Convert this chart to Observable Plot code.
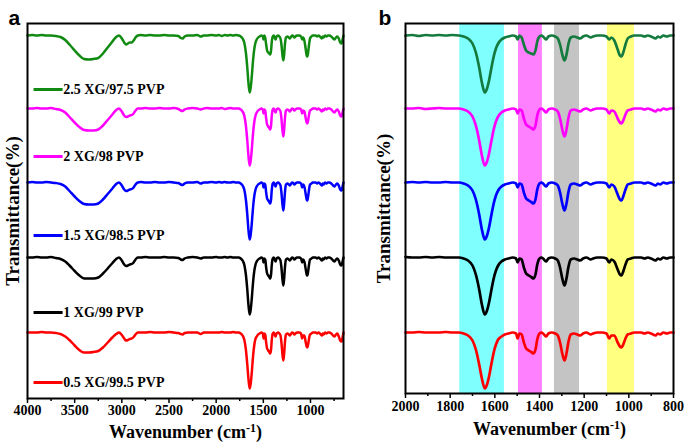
<!DOCTYPE html>
<html>
<head>
<meta charset="utf-8">
<script src="https://cdn.jsdelivr.net/npm/d3@7"></script>
<script src="https://cdn.jsdelivr.net/npm/@observablehq/plot@0.6"></script>
<style>
  html, body { margin: 0; padding: 0; background: #fff; }
  #wrap { position: relative; width: 685px; height: 445px; overflow: hidden; }
  #wrap svg { position: absolute; top: 0; }
</style>
</head>
<body>
<div id="wrap"></div>
<script>
// ---- data ----
const wavenumbers = [
4000,3950,3900,3850,3800,3750,3700,3650,3600,3550,
3500,3450,3400,3350,3300,3250,3200,3150,3100,3060,
3030,3000,2975,2955,2935,2915,2895,2875,2855,2830,
2800,2750,2700,2650,2600,2550,2500,2450,2400,2375,
2355,2335,2300,2250,2200,2165,2130,2100,2050,2000,
1970,1940,1910,1880,1850,1820,1790,1760,1740,1720,
1700,1685,1670,1658,1645,1635,1625,1615,1605,1595,
1585,1570,1555,1540,1520,1505,1498,1490,1480,1470,
1460,1448,1437,1427,1418,1410,1400,1390,1380,1370,
1360,1345,1330,1318,1308,1298,1288,1280,1270,1260,
1245,1230,1218,1205,1190,1170,1160,1140,1120,1100,
1088,1078,1065,1050,1040,1033,1025,1015,1005,990,
975,960,945,930,915,900,880,870,860,845,
830,815,800,780,760,745,730,715,700,685,
670,660,650];

// relative transmittance of each sample (0 = baseline)
const t05 = [
0,0,0,0.5,0,0,-0.5,-1.5,-4,-8,
-13,-17.5,-20,-20,-19.5,-18.5,-15,-10,-5,-1.5,
0,-2.5,-6,-8,-7.5,-6.5,-6,-4.5,-2,0,
0,0,0.5,0,0,0,0.5,0,-0.5,-1.5,
-2,-0.5,0,0,0,-1.5,0,0,0,0,
0,0.5,0,0,0,0.5,0,0,-1,-3,
-8,-17,-32,-46,-56,-52,-43,-31,-20,-12,
-7,-4,-2,-1,0,-1,-6,-1,-2,-10,
-16,-18,-19.5,-21,-17,-7,-1,0,-2,-4,
-1,0,-1,-3,-10,-21,-28,-22,-9,-2,
-1,-2,-3,-1,0,-2,-1,0,0,-1,
-6,-3,-3,-10,-14,-15,-12,-6,-2,-1,
0,0,0,-1,0,-1,-3,-1,-2,0,
-1,0,0,-1,-3,-4,-2,-1,-4,-8,
-9,-5,0];
const t1 = [
0,0,0.5,0,0,0.5,-0.5,-1.5,-4,-8.5,
-13.5,-18,-21,-21,-21,-20,-16,-11,-5.5,-1.5,
0,-3,-7,-8.5,-8,-7,-6.5,-5,-2,0,
0,0.5,0,0,0,0.5,0,0,-0.5,-2,
-2.5,-1,0,0.5,0,-1,0,0,0,0.5,
0,0,0.5,0,0.5,0,0,0,-1,-3,
-8,-17,-32,-47,-57,-53,-44,-32,-21,-13,
-8,-4,-2,-1,0,-1,-5,-1,-2,-10,
-16,-18,-19.5,-21,-17,-7,-1,0,-2,-4,
-1,0,-1,-3,-10,-21,-28,-22,-9,-2,
-1,-2,-3,-1,0,-2,-1,0,0,-1,
-5,-2,-4,-12,-17,-18,-14,-7,-2,-1,
0,0,0,-1,0,-1,-3,-1,-2,0,
-1,0,0,-1,-3,-4,-2,-1,-3,-7,
-8,-4,0];
const t15 = [
0,0.5,0,0,0.5,0,-0.5,-1.5,-4,-9,
-14,-18.5,-21.5,-22,-22,-21,-17,-11.5,-6,-1.5,
0,-3,-7,-8.5,-8,-7,-6.5,-5,-2,0,
0.5,0,0,0.5,0,0,0.5,0,-0.5,-2,
-2.5,-1,0,0,0.5,-1,0,0,0.5,0,
0.5,0,0.5,0,0,0.5,0,0,-1,-3,
-8,-17,-32,-47,-57,-53,-44,-32,-21,-13,
-8,-4,-2,-1,0,-1,-5,-1,-2,-10,
-16,-18,-19.5,-21,-17,-7,-1,0,-2,-4,
-1,0,-1,-3,-10,-21,-28,-22,-9,-2,
-1,-2,-3,-1,0,-2,-1,0,0,-1,
-5,-2,-4,-12,-17,-18,-14,-7,-2,-1,
0,0,0,-1,0,-1,-3,-1,-2,0,
-1,0,0,-1,-3,-4,-2,-1,-3,-7,
-8,-4,0];
const t2 = [
0,0,0.5,0,0,0.5,-0.5,-1.5,-4,-9,
-14,-18.5,-21.5,-22,-22,-21,-17,-11.5,-6,-1.5,
0,-3,-7,-8.5,-8,-7,-6.5,-5,-2,0,
0,0.5,0,0,0.5,0,0,0.5,-0.5,-2,
-2.5,-1,0,0.5,0,-1,0,0.5,0,0,
0,0.5,-0.5,0,0.5,0,0,0,-1,-3,
-8,-17,-32,-47,-57,-53,-44,-32,-21,-13,
-8,-4,-2,-1,0,-1,-5,-1,-2,-10,
-16,-18,-19.5,-21,-17,-7,-1,0,-2,-4,
-1,0,-1,-3,-10,-21,-28,-22,-9,-2,
-1,-2,-3,-1,0,-2,-1,0,0,-1,
-5,-2,-3,-10,-14,-15,-12,-6,-2,-1,
0,0,0,-1,0,-1,-3,-1,-2,0,
-1,0,0,-1,-3,-4,-2,-1,-3,-7,
-8,-4,0];
const t25 = [
0,0.5,0,0.5,0,0,-0.5,-1.5,-4.5,-9.5,
-15,-20,-23.5,-24,-23.5,-22.5,-18,-12,-6,-1.5,
0,-3,-7,-9,-8,-7,-7,-5,-2,0,
0.5,0,0.5,0,0,0.5,0,0,-0.5,-2.5,
-3,-1,0,0,0.5,-1,0,0,0.5,0,
0.5,-0.5,0.5,0,0.5,0,0.5,0,-1,-3,
-8,-17,-32,-47,-57,-53,-44,-32,-21,-13,
-8,-4,-2,-1,0,-1,-4,0,-2,-9,
-15,-17,-18,-19,-15,-6,-1,0,-2,-4,
-1,0,-1,-3,-9,-19,-25,-20,-8,-2,
-1,-2,-3,-1,0,-2,-1,0,0,-1,
-4,-2,-5,-14,-20,-21,-17,-9,-3,-1,
0,0,0,-1,0,-1,-3,-1,-2,0,
-1,0,0,-1,-3,-4,-2,-1,-3,-7,
-8,-4,0];

const seriesNames = ["0.5 XG/99.5 PVP", "1 XG/99 PVP", "1.5 XG/98.5 PVP", "2 XG/98 PVP", "2.5 XG/97.5 PVP"];
const seriesValues = [t05, t1, t15, t2, t25];
const stackOffsets = [66, 141, 216, 290, 363];
const colorsA = ["#ff0000", "#000000", "#0000ff", "#ff00ff", "#118a11"];
const colorsB = ["#ff0000", "#000000", "#0000ff", "#ff00ff", "#147a3e"];
const legendY = [16, 86, 163, 242, 309];

const bandStart = [1757, 1494, 1333, 1096];
const bandEnd = [1557, 1387, 1221, 975];
const bandColors = ["#80ffff", "#ff80ff", "#c4c4c4", "#ffff80"];

const ticksA = [4000, 3500, 3000, 2500, 2000, 1500, 1000];
const minorTicksA = [3750, 3250, 2750, 2250, 1750, 1250, 750];
const ticksB = [2000, 1800, 1600, 1400, 1200, 1000, 800];
const minorTicksB = [1900, 1700, 1500, 1300, 1100, 900];

// ---- build tables ----
const rows = [];
seriesValues.forEach((vals, i) => {
  vals.forEach((v, j) => rows.push({
    wn: wavenumbers[j], y: stackOffsets[i] + v, series: seriesNames[i],
    colorA: colorsA[i], colorB: colorsB[i]
  }));
});
const rowsB = rows.filter(d => d.wn <= 2000 && d.wn >= 800);
const legend = seriesNames.map((name, i) => ({name, y: legendY[i], color: colorsA[i]}));
const bands = bandStart.map((s, i) => ({x1: s, x2: bandEnd[i], color: bandColors[i]}));

const serif = "'Liberation Serif', 'Times New Roman', serif";
const xLabel = "Wavenumber (cm-1)";

function fixSup(svg) {
  svg.querySelectorAll("text").forEach(t => {
    if (t.textContent === xLabel) {
      t.textContent = "";
      const ns = "http://www.w3.org/2000/svg";
      const a = document.createElementNS(ns, "tspan"); a.textContent = "Wavenumber (cm";
      const b = document.createElementNS(ns, "tspan"); b.textContent = "-1"; b.setAttribute("dy", "-6"); b.setAttribute("font-size", "12");
      const c = document.createElementNS(ns, "tspan"); c.textContent = ")"; c.setAttribute("dy", "6");
      t.append(a, b, c);
    }
  });
}

const plotA = Plot.plot({
  width: 350, height: 445,
  marginLeft: 27, marginRight: 7, marginTop: 23, marginBottom: 47,
  x: {domain: [4000, 650]},
  y: {domain: [0, 375], axis: null},
  color: {type: "identity"},
  style: {fontFamily: serif, background: "transparent", overflow: "visible", color: "#000"},
  marks: [
    Plot.axisX({ticks: minorTicksA, tickSize: 3, tickFormat: () => "", label: null, strokeWidth: 1.5}),
    Plot.axisX({ticks: ticksA, tickSize: 5, tickPadding: 2, tickFormat: d => String(d), label: null,
      fontSize: 14, fontWeight: "bold", strokeWidth: 1.5}),
    Plot.line(rows, {x: "wn", y: "y", z: "series", stroke: "colorA", strokeWidth: 2.5, curve: "monotone-x"}),
    Plot.link(legend, {x1: 3936, x2: 3628, y1: "y", y2: "y", stroke: "color", strokeWidth: 3}),
    Plot.text(legend, {x: 3620, y: "y", text: "name", textAnchor: "start", fontSize: 14, fontWeight: "bold"}),
    Plot.frame({stroke: "#000", strokeWidth: 2}),
    Plot.text([xLabel], {frameAnchor: "bottom", dy: 39, fontSize: 18, fontWeight: "bold"}),
    Plot.text(["Transmittance(%)"], {frameAnchor: "left", textAnchor: "middle", dx: -15, rotate: -90, fontSize: 19, fontWeight: "bold"}),
    Plot.text(["a"], {frameAnchor: "top-left", dx: -19, dy: -13, fontSize: 21, fontWeight: "bold",
      fontFamily: "'Liberation Sans', Arial, sans-serif", textAnchor: "start"})
  ]
});
fixSup(plotA);
plotA.style.left = "0px";

const plotB = Plot.plot({
  width: 345, height: 445,
  marginLeft: 65, marginRight: 12, marginTop: 23, marginBottom: 52,
  x: {domain: [2000, 800]},
  y: {domain: [5, 375], axis: null},
  color: {type: "identity"},
  style: {fontFamily: serif, background: "transparent", overflow: "visible", color: "#000"},
  marks: [
    Plot.rect(bands, {x1: "x1", x2: "x2", fill: "color"}),
    Plot.axisX({ticks: minorTicksB, tickSize: 3, tickFormat: () => "", label: null, strokeWidth: 1.5}),
    Plot.axisX({ticks: ticksB, tickSize: 5, tickPadding: 3, tickFormat: d => String(d), label: null,
      fontSize: 14, fontWeight: "bold", strokeWidth: 1.5}),
    Plot.line(rowsB, {x: "wn", y: "y", z: "series", stroke: "colorB", strokeWidth: 2.7, curve: "monotone-x"}),
    Plot.frame({stroke: "#000", strokeWidth: 2}),
    Plot.text([xLabel], {frameAnchor: "bottom", dx: 10, dy: 41, fontSize: 18, fontWeight: "bold"}),
    Plot.text(["Transmittance(%)"], {frameAnchor: "left", textAnchor: "middle", dx: -22, rotate: -90, fontSize: 19, fontWeight: "bold"}),
    Plot.text(["b"], {frameAnchor: "top-left", dx: -27, dy: -13, fontSize: 21, fontWeight: "bold",
      fontFamily: "'Liberation Sans', Arial, sans-serif", textAnchor: "start"})
  ]
});
fixSup(plotB);
plotB.style.left = "340px";

document.getElementById("wrap").append(plotA, plotB);
</script>
</body>
</html>
